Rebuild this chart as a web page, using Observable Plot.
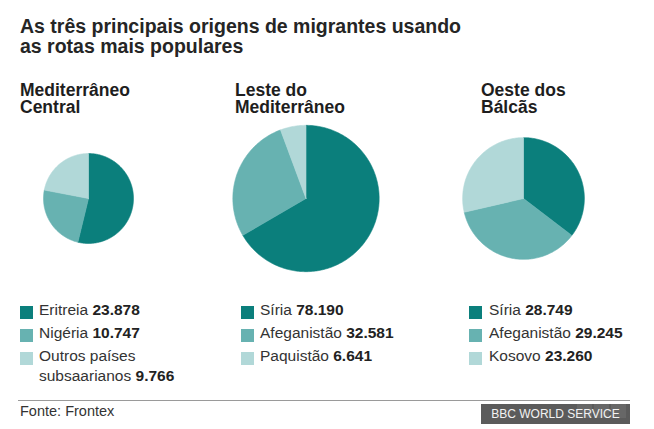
<!DOCTYPE html>
<html>
<head>
<meta charset="utf-8">
<script src="https://cdn.jsdelivr.net/npm/d3@7"></script>
<script src="https://cdn.jsdelivr.net/npm/@observablehq/plot@0.6"></script>
<style>
  html, body { margin: 0; padding: 0; background: #fff; }
  body { width: 654px; height: 429px; position: relative; overflow: hidden;
         font-family: "Liberation Sans", Arial, Helvetica, sans-serif; color: #222; }
  .title { position: absolute; left: 20px; top: 16px; font-size: 19.5px; font-weight: bold; line-height: 20px; color: #252525; }
  .hdr { position: absolute; top: 82px; font-size: 17.5px; font-weight: bold; line-height: 17px; color: #1e1e1e; }
  #pies { position: absolute; left: 0; top: 120px; }
  .leg { position: absolute; top: 300px; }
  .item { position: relative; margin-bottom: 3px; font-size: 15.5px; line-height: 20px; color: #333; }
  .item .sw { position: absolute; top: 6px; width: 13px; height: 13px; }
  .item .tx { max-width: 165px; }
  .item b { color: #222; }
  .rule { position: absolute; left: 18px; width: 612px; top: 400px; height: 0; border-top: 1.5px solid #9a9a9a; }
  .src { position: absolute; left: 20px; top: 402px; font-size: 14.5px; line-height: 18px; color: #333; }
  .bbc { position: absolute; left: 481px; top: 404px; width: 149px; height: 20px; background: #5b5b5b; }
  .bbc .blk { position: absolute; top: 0; width: 15px; height: 14px; background: #676767; }
  .bbc .txt { position: absolute; left: 0; top: 0; width: 149px; color: #f2f2f2;
              font-size: 12px; line-height: 20px; text-align: center; }
</style>
</head>
<body>
<div class="title">As três principais origens de migrantes usando<br>as rotas mais populares</div>
<div id="headers"></div>
<div id="pies"></div>
<div id="legend"></div>
<div class="rule"></div>
<div class="src">Fonte: Frontex</div>
<div class="bbc"><div class="blk" style="left:96px"></div><div class="blk" style="left:113px"></div><div class="blk" style="left:130px"></div><div class="txt">BBC WORLD SERVICE</div></div>
<script>
// ---- data ----
const routes = ["Mediterrâneo Central", "Leste do Mediterrâneo", "Oeste dos Bálcãs"];
const routeLines = [["Mediterrâneo", "Central"], ["Leste do", "Mediterrâneo"], ["Oeste dos", "Bálcãs"]];
const centralOrigins = ["Eritreia", "Nigéria", "Outros países subsaarianos"];
const centralValues = [23878, 10747, 9766];
const lesteOrigins = ["Síria", "Afeganistão", "Paquistão"];
const lesteValues = [78190, 32581, 6641];
const balcasOrigins = ["Síria", "Afeganistão", "Kosovo"];
const balcasValues = [28749, 29245, 23260];

// ---- style / layout ----
const colors = ["#0b7f7c", "#67b2b1", "#b1d8d8"];
const origins = [centralOrigins, lesteOrigins, balcasOrigins];
const values = [centralValues, lesteValues, balcasValues];
const hdrX = [20, 235, 481];
const swX = [20, 241, 469];
const txX = [39, 260, 489];
const W = 654, H = 160;
const pxPerUnit = 217.5;      // horizontal spacing between pie centres
const firstCenterPx = 88, centerYPx = 78;
const radiusPxPerSqrt = 0.2135; // pie area proportional to total

const fmt = d3.formatLocale({decimal: ",", thousands: ".", grouping: [3], currency: ["", ""]}).format(",d");

// headers
const hdrs = document.getElementById("headers");
routeLines.forEach((lines, i) => {
  const d = document.createElement("div");
  d.className = "hdr";
  d.style.left = hdrX[i] + "px";
  d.innerHTML = lines.join("<br>");
  d.title = routes[i];
  hdrs.appendChild(d);
});

// wedge polygons
const pts = [];
values.forEach((vals, c) => {
  const total = d3.sum(vals);
  const r = radiusPxPerSqrt * Math.sqrt(total) / pxPerUnit;
  let cum = 0;
  vals.forEach((v, k) => {
    const a0 = cum / total * 2 * Math.PI;
    cum += v;
    const a1 = cum / total * 2 * Math.PI;
    const id = c + "-" + k;
    pts.push({id, k, x: c, y: 0});
    const n = Math.max(2, Math.ceil((a1 - a0) / (Math.PI / 180)));
    for (let i = 0; i <= n; i++) {
      const t = a0 + (a1 - a0) * i / n;
      pts.push({id, k, x: c + r * Math.sin(t), y: r * Math.cos(t)});
    }
    pts.push({id, k, x: c, y: 0});
  });
});

const chart = Plot.plot({
  width: W, height: H, margin: 0,
  x: {domain: [-firstCenterPx / pxPerUnit, (W - firstCenterPx) / pxPerUnit], axis: null},
  y: {domain: [-(H - centerYPx) / pxPerUnit, centerYPx / pxPerUnit], axis: null},
  color: {type: "ordinal", domain: [0, 1, 2], range: colors},
  marks: [
    Plot.line(pts, {x: "x", y: "y", z: "id", fill: "k", stroke: "k", strokeWidth: 0.6})
  ]
});
document.getElementById("pies").appendChild(chart);

// legends
const leg = document.getElementById("legend");
origins.forEach((names, c) => {
  const col = document.createElement("div");
  col.className = "leg";
  col.style.left = swX[c] + "px";
  names.forEach((name, k) => {
    const it = document.createElement("div");
    it.className = "item";
    const sw = document.createElement("div");
    sw.className = "sw";
    sw.style.left = "0px";
    sw.style.background = colors[k];
    const tx = document.createElement("div");
    tx.className = "tx";
    tx.style.marginLeft = (txX[c] - swX[c]) + "px";
    tx.innerHTML = name + " <b>" + fmt(values[c][k]) + "</b>";
    it.appendChild(sw); it.appendChild(tx);
    col.appendChild(it);
  });
  leg.appendChild(col);
});
</script>
</body>
</html>
